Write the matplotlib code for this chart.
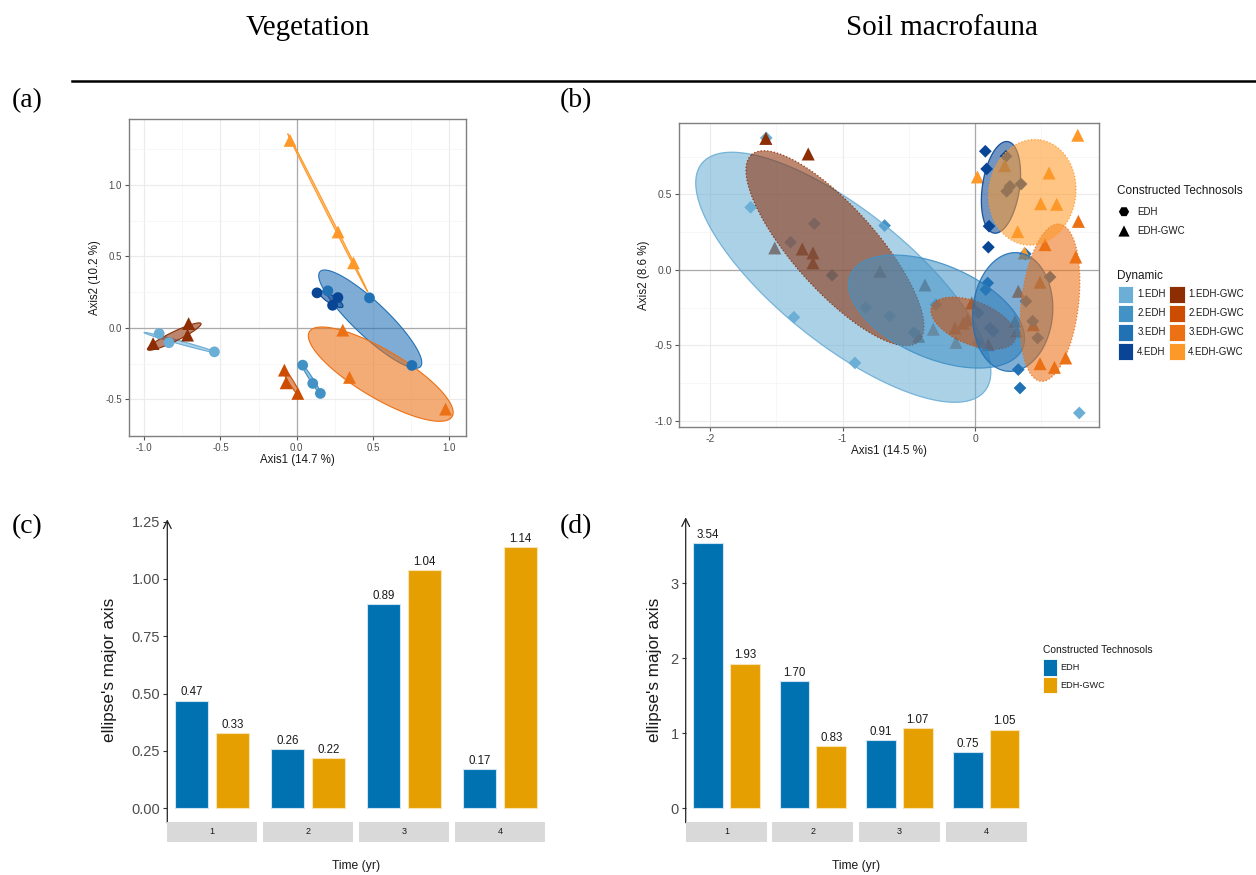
import numpy as np
import matplotlib
matplotlib.use('Agg')
import matplotlib.pyplot as plt
from matplotlib.patches import Polygon, Rectangle

plt.rcParams['font.family'] = ['Liberation Sans', 'DejaVu Sans']

W, H = 1256, 875
fig = plt.figure(figsize=(W / 100, H / 100), dpi=100)


def rect(x0, y0, x1, y1):
    return [x0 / W, 1 - y1 / H, (x1 - x0) / W, (y1 - y0) / H]


# ---------------- data ----------------
dyn_levels = ['1.EDH', '1.EDH-GWC', '2.EDH', '2.EDH-GWC',
              '3.EDH', '3.EDH-GWC', '4.EDH', '4.EDH-GWC']
dyn_colors = ['#6BAED6', '#8C2D04', '#4292C6', '#CC4C02',
              '#2171B5', '#EC7014', '#084594', '#FE9929']

# Panel (a) vegetation PCoA scores
veg_x = {
    '1.EDH': [-0.902, -0.540, -0.838],
    '1.EDH-GWC': [-0.709, -0.716, -0.942],
    '2.EDH': [0.039, 0.105, 0.155],
    '2.EDH-GWC': [-0.081, -0.070, 0.007],
    '3.EDH': [0.204, 0.477, 0.755],
    '3.EDH-GWC': [0.302, 0.346, 0.976],
    '4.EDH': [0.133, 0.270, 0.235],
    '4.EDH-GWC': [-0.044, 0.271, 0.372],
}
veg_y = {
    '1.EDH': [-0.040, -0.168, -0.104],
    '1.EDH-GWC': [0.030, -0.051, -0.110],
    '2.EDH': [-0.261, -0.389, -0.459],
    '2.EDH-GWC': [-0.296, -0.385, -0.459],
    '3.EDH': [0.259, 0.210, -0.263],
    '3.EDH-GWC': [-0.016, -0.347, -0.569],
    '4.EDH': [0.245, 0.212, 0.158],
    '4.EDH-GWC': [1.312, 0.671, 0.455],
}
# ellipses: centre, major tip, conjugate minor tip (data units)
veg_ell_cx = [-0.760, -0.803, 0.0975, -0.037, 0.482, 0.551, 0.225, 0.2035]
veg_ell_cy = [-0.104, -0.061, -0.3625, -0.378, 0.061, -0.324, 0.200, 0.805]
veg_ell_ax = [-0.519, -0.628, 0.165, 0.0175, 0.811, 1.019, 0.302, -0.059]
veg_ell_ay = [-0.175, 0.030, -0.475, -0.471, -0.272, -0.621, 0.147, 1.359]
veg_ell_bx = [-0.757, -0.816, 0.1068, -0.024, 0.559, 0.632, 0.240, 0.2094]
veg_ell_by = [-0.093, -0.031, -0.3562, -0.369, 0.147, -0.180, 0.223, 0.8086]

# Panel (b) soil macrofauna PCoA scores
fau_x = {
    '1.EDH': [-1.577, -1.695, -1.368, -0.907, 0.788, -1.214, -1.393, -0.645, -0.826],
    '1.EDH-GWC': [-1.580, -1.260, -1.513, -1.305, -1.224, -1.224, -0.718, -0.425, -0.378],
    '2.EDH': [-0.683, -1.080, -0.461, 0.025, 0.113, 0.138, 0.025, -0.295],
    '2.EDH-GWC': [-0.025, -0.058, -0.088, -0.151, 0.101, -0.315, -0.144, 0.440],
    '3.EDH': [0.096, 0.081, 0.327, 0.340, 0.385, 0.436, 0.473, 0.567, 0.380],
    '3.EDH-GWC': [0.781, 0.529, 0.761, 0.491, 0.491, 0.600, 0.685, 0.327, 0.302, 0.315],
    '4.EDH': [0.078, 0.088, 0.234, 0.106, 0.101, 0.264, 0.239, 0.348],
    '4.EDH-GWC': [0.018, 0.776, 0.559, 0.496, 0.617, 0.322, 0.373, 0.224],
}
fau_y = {
    '1.EDH': [0.873, 0.414, -0.314, -0.616, -0.947, 0.306, 0.183, -0.307, -0.248],
    '1.EDH-GWC': [0.870, 0.767, 0.145, 0.138, 0.112, 0.046, -0.009, -0.440, -0.100],
    '2.EDH': [0.293, -0.036, -0.415, -0.285, -0.385, -0.406, -0.484, -0.230],
    '2.EDH-GWC': [-0.219, -0.330, -0.352, -0.385, -0.495, -0.393, -0.480, -0.363],
    '3.EDH': [-0.087, -0.131, -0.660, -0.782, -0.208, -0.340, -0.451, -0.047, 0.105],
    '3.EDH-GWC': [0.321, 0.167, 0.085, -0.082, -0.621, -0.645, -0.583, -0.142, -0.340, -0.406],
    '4.EDH': [0.785, 0.668, 0.752, 0.289, 0.150, 0.553, 0.520, 0.568],
    '4.EDH-GWC': [0.615, 0.891, 0.641, 0.438, 0.434, 0.253, 0.112, 0.690],
}
fau_ell_cx = [-0.995, -1.058, -0.290, -0.0126, 0.285, 0.567, 0.196, 0.433]
fau_ell_cy = [-0.049, 0.143, -0.276, -0.353, -0.279, -0.217, 0.546, 0.513]
fau_ell_ax = [-2.064, -1.688, 0.360, 0.302, 0.305, 0.637, 0.247, 0.491]
fau_ell_ay = [0.704, 0.762, -0.519, -0.464, 0.114, 0.303, 0.849, 0.860]
fau_ell_bx = [-0.679, -0.823, -0.151, 0.048, 0.587, 0.781, 0.335, 0.758]
fau_ell_by = [0.294, 0.326, 0.008, -0.221, -0.279, -0.239, 0.529, 0.471]

# Panels (c), (d): ellipse major axis
times = ['1', '2', '3', '4']
soil_types = ['EDH', 'EDH-GWC']
bar_colors = ['#0072B2', '#E69F00']
bar_edges = ['#cfe2ef', '#f7e3b5']
veg_edh = [0.47, 0.26, 0.89, 0.17]
veg_gwc = [0.33, 0.22, 1.04, 1.14]
fau_edh = [3.54, 1.70, 0.91, 0.75]
fau_gwc = [1.93, 0.83, 1.07, 1.05]

TXT = '#4D4D4D'


def ellipse_poly(cx, cy, ax_, ay, bx, by, n=240):
    t = np.linspace(0, 2 * np.pi, n)
    xs = cx + (ax_ - cx) * np.cos(t) + (bx - cx) * np.sin(t)
    ys = cy + (ay - cy) * np.cos(t) + (by - cy) * np.sin(t)
    return np.column_stack([xs, ys])


def style_ord(ax, xlim, ylim, xt, xtl, yt, ytl, xminor, yminor, fs):
    ax.set_xlim(*xlim)
    ax.set_ylim(*ylim)
    ax.set_xticks(xt)
    ax.set_xticklabels(xtl)
    ax.set_yticks(yt)
    ax.set_yticklabels(ytl)
    ax.set_xticks(xminor, minor=True)
    ax.set_yticks(yminor, minor=True)
    ax.grid(True, which='major', color='#EBEBEB', lw=0.8, zorder=0)
    ax.grid(True, which='minor', color='#F4F4F4', lw=0.5, zorder=0)
    ax.set_axisbelow(True)
    ax.tick_params(which='major', length=3, color='#555555', labelsize=fs,
                   labelcolor=TXT, pad=2)
    ax.tick_params(which='minor', length=0)
    for s in ax.spines.values():
        s.set_color('#7F7F7F')
        s.set_linewidth(1.0)
    ax.axhline(0, color='#AAAAAA', lw=0.9, zorder=1)
    ax.axvline(0, color='#AAAAAA', lw=0.9, zorder=1)


# ---------------- panel (a) ----------------
axa = fig.add_axes(rect(129, 119, 466, 436))
style_ord(axa, (-1.1, 1.11), (-0.757, 1.462),
          [-1, -0.5, 0, 0.5, 1], ['-1.0', '-0.5', '0.0', '0.5', '1.0'],
          [-0.5, 0, 0.5, 1.0], ['-0.5', '0.0', '0.5', '1.0'],
          [-0.75, -0.25, 0.25, 0.75], [-0.25, 0.25, 0.75, 1.25], 7)
for i, g in enumerate(dyn_levels):
    poly = ellipse_poly(veg_ell_cx[i], veg_ell_cy[i], veg_ell_ax[i], veg_ell_ay[i],
                        veg_ell_bx[i], veg_ell_by[i])
    axa.add_patch(Polygon(poly, closed=True, facecolor=dyn_colors[i], alpha=0.58,
                          edgecolor='none', zorder=2))
    axa.add_patch(Polygon(poly, closed=True, facecolor='none',
                          edgecolor=dyn_colors[i], lw=0.8, zorder=2))
for i, g in enumerate(dyn_levels):
    mk = '^' if g.endswith('GWC') else 'o'
    s = 85 if mk == '^' else 60
    axa.scatter(veg_x[g], veg_y[g], marker=mk, s=s, color=dyn_colors[i],
                edgecolors='none', zorder=3)
axa.set_xlabel('Axis1 (14.7 %)', fontsize=8.3, color='#1A1A1A', labelpad=1)
axa.set_ylabel('Axis2 (10.2 %)', fontsize=8.3, color='#1A1A1A', labelpad=3)

# ---------------- panel (b) ----------------
axb = fig.add_axes(rect(679.3, 123.3, 1099.3, 426.7))
style_ord(axb, (-2.234, 0.939), (-1.038, 0.970),
          [-2, -1, 0], ['-2', '-1', '0'],
          [-1.0, -0.5, 0, 0.5], ['-1.0', '-0.5', '0.0', '0.5'],
          [-1.5, -0.5, 0.5], [-0.75, -0.25, 0.25, 0.75], 7.5)
for i, g in enumerate(dyn_levels):
    mk = '^' if g.endswith('GWC') else 'D'
    s = 88 if mk == '^' else 42
    axb.scatter(fau_x[g], fau_y[g], marker=mk, s=s, color=dyn_colors[i],
                edgecolors='none', zorder=2)
for i, g in enumerate(dyn_levels):
    poly = ellipse_poly(fau_ell_cx[i], fau_ell_cy[i], fau_ell_ax[i], fau_ell_ay[i],
                        fau_ell_bx[i], fau_ell_by[i])
    axb.add_patch(Polygon(poly, closed=True, facecolor=dyn_colors[i], alpha=0.57,
                          edgecolor='none', zorder=3))
    ls = ':' if g.endswith('GWC') else '-'
    axb.add_patch(Polygon(poly, closed=True, facecolor='none', linestyle=ls,
                          edgecolor=dyn_colors[i], lw=0.9, alpha=0.9, zorder=3))
axb.set_xlabel('Axis1 (14.5 %)', fontsize=8.4, color='#1A1A1A', labelpad=1)
axb.set_ylabel('Axis2 (8.6 %)', fontsize=8.4, color='#1A1A1A', labelpad=3)


# ---------------- bar panels ----------------
def bar_panel(facet_x, vals_edh, vals_gwc, unit_px, ticks, ticklabels, arrow_top,
              ylab_x, time_x, tick_fs):
    y0px = 808.3
    bottom_px, top_px = 822.7, 505.0
    ylim = (-(bottom_px - y0px) / unit_px, (y0px - top_px) / unit_px)
    axes = []
    for k, (xa, xb) in enumerate(facet_x):
        ax = fig.add_axes(rect(xa, top_px, xb, bottom_px))
        ax.set_xlim(0.4, 2.6)
        ax.set_ylim(*ylim)
        vals = [vals_edh[k], vals_gwc[k]]
        ax.bar([1, 2], vals, width=0.8, color=bar_colors,
               edgecolor=bar_edges, linewidth=0.8, zorder=2)
        for xx, v in zip([1, 2], vals):
            ax.annotate(f'{v:.2f}', (xx, v), xytext=(0, 1.5),
                        textcoords='offset points', ha='center', va='bottom',
                        fontsize=8.3, color='#1A1A1A')
        for s in ax.spines.values():
            s.set_visible(False)
        ax.set_xticks([])
        ax.patch.set_alpha(0)
        if k == 0:
            ax.set_yticks(ticks)
            ax.set_yticklabels(ticklabels)
            ax.tick_params(axis='y', length=3, color='#333333', labelsize=tick_fs,
                           labelcolor=TXT, pad=2)
            ax.annotate('', xy=(0, arrow_top), xytext=(0, ylim[0]),
                        xycoords=('axes fraction', 'data'),
                        textcoords=('axes fraction', 'data'),
                        arrowprops=dict(arrowstyle='->', color='#222222', lw=0.9,
                                        mutation_scale=14, shrinkA=0, shrinkB=0),
                        annotation_clip=False)
        else:
            ax.set_yticks([])
        # strip
        sax = fig.add_axes(rect(xa, 821.7, xb, 841.7))
        sax.set_xticks([])
        sax.set_yticks([])
        sax.set_facecolor('#D9D9D9')
        for s in sax.spines.values():
            s.set_visible(False)
        sax.text(0.5, 0.5, times[k], ha='center', va='center', fontsize=6.5,
                 color='#1A1A1A', transform=sax.transAxes)
        axes.append(ax)
    fig.text(ylab_x / W, 1 - 670 / H, "ellipse's major axis", rotation=90,
             ha='center', va='center', fontsize=12.3, color='#1A1A1A')
    fig.text(time_x / W, 1 - 866 / H, 'Time (yr)', ha='center', va='center',
             fontsize=8.7, color='#1A1A1A')
    return axes


bar_panel([(167.3, 256.7), (262.7, 353.0), (358.7, 449.0), (455.0, 545.0)],
          veg_edh, veg_gwc, 229.3, [0, 0.25, 0.5, 0.75, 1.0, 1.25],
          ['0.00', '0.25', '0.50', '0.75', '1.00', '1.25'], 1.26, 109.3, 356, 10.5)
bar_panel([(685.7, 767.3), (772.3, 853.3), (858.7, 940.0), (945.7, 1026.7)],
          fau_edh, fau_gwc, 75.0, [0, 1, 2, 3], ['0', '1', '2', '3'], 3.88,
          655, 856, 10.5)

# ---------------- overlay: titles, labels, legends ----------------
ov = fig.add_axes([0, 0, 1, 1], zorder=10)
ov.set_xlim(0, W)
ov.set_ylim(H, 0)
ov.axis('off')
ov.patch.set_alpha(0)

serif = ['Liberation Serif', 'DejaVu Serif']
ov.text(308, 28, 'Vegetation', family=serif, fontsize=21, ha='center', va='center')
ov.text(942, 28, 'Soil macrofauna', family=serif, fontsize=21, ha='center', va='center')
ov.plot([72, 1256], [81, 81], color='black', lw=1.8)
for lab, (x, y) in zip(['(a)', '(b)', '(c)', '(d)'],
                       [(12, 101), (560, 101), (12, 527), (560, 527)]):
    ov.text(x, y, lab, family=serif, fontsize=20, ha='left', va='center')

# legend (b)
ov.text(1117.3, 190.7, 'Constructed Technosols', fontsize=8.5, color='#1A1A1A',
        ha='left', va='center')
ov.scatter([1124], [211.7], marker='H', s=55, color='black', edgecolors='none')
ov.text(1137.3, 211.7, soil_types[0], fontsize=7, color='#1A1A1A', ha='left', va='center')
ov.scatter([1124], [231], marker='^', s=65, color='black', edgecolors='none')
ov.text(1137.3, 231, soil_types[1], fontsize=7, color='#1A1A1A', ha='left', va='center')
ov.text(1117.3, 276, 'Dynamic', fontsize=8.5, color='#1A1A1A', ha='left', va='center')
rows = [(286, 302.7), (305, 321.7), (324, 340.7), (343.3, 360)]
for j in range(4):
    for col, (kx0, kx1, tx) in enumerate([(1118.3, 1133.3, 1137.3), (1169.3, 1185, 1188.3)]):
        idx = 2 * j + col
        ya, yb = rows[j]
        ov.add_patch(Rectangle((kx0, ya), kx1 - kx0, yb - ya, facecolor=dyn_colors[idx],
                               edgecolor='white', lw=0.6))
        ov.text(tx, (ya + yb) / 2, dyn_levels[idx], fontsize=7, color='#1A1A1A',
                ha='left', va='center')

# legend (d)
ov.text(1042.7, 650, 'Constructed Technosols', fontsize=7.4, color='#1A1A1A',
        ha='left', va='center')
for j, (ya, yb) in enumerate([(659.3, 675.7), (677.3, 693.3)]):
    ov.add_patch(Rectangle((1043.3, ya), 14, yb - ya, facecolor=bar_colors[j],
                           edgecolor='white', lw=0.6))
    ov.text(1060, (ya + yb) / 2, soil_types[j], fontsize=6.6, color='#1A1A1A',
            ha='left', va='center')

fig.savefig('out.png', dpi=100, facecolor='white')
